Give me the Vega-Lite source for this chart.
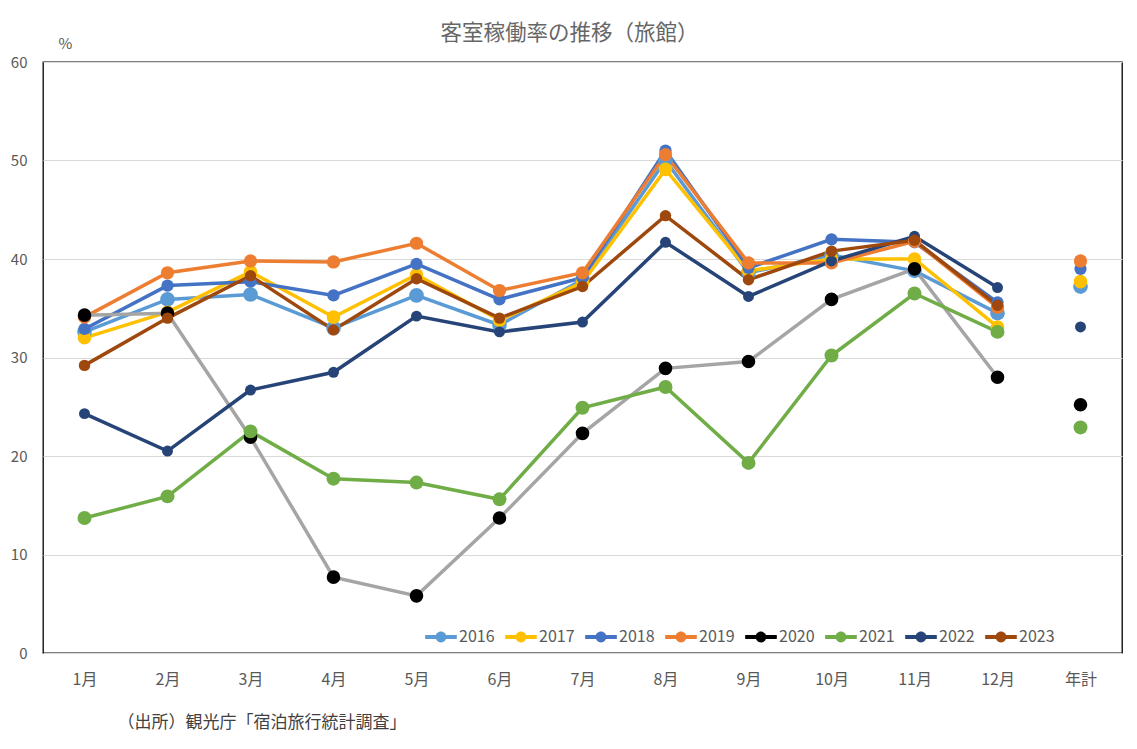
{
  "$schema": "https://vega.github.io/schema/vega-lite/v6.json",
  "width": 1079,
  "height": 591,
  "autosize": {"type": "none"},
  "padding": {"left": 43, "top": 62, "right": 15, "bottom": 96},
  "title": {
    "text": "客室稼働率の推移（旅館）",
    "fontSize": 21.5,
    "fontWeight": "normal",
    "color": "#666666",
    "anchor": "middle",
    "dx": -13,
    "offset": -8
  },
  "config": {
    "font": "Noto Sans CJK JP",
    "view": {"stroke": "#000000", "strokeWidth": 1.3},
    "background": "#ffffff"
  },
  "data": {
    "values": [
      {"m": "1月", "year": "2016", "v": 32.6}, {"m": "2月", "year": "2016", "v": 35.9}, {"m": "3月", "year": "2016", "v": 36.4}, {"m": "4月", "year": "2016", "v": 33.0}, {"m": "5月", "year": "2016", "v": 36.3}, {"m": "6月", "year": "2016", "v": 33.3}, {"m": "7月", "year": "2016", "v": 37.9}, {"m": "8月", "year": "2016", "v": 50.0}, {"m": "9月", "year": "2016", "v": 38.6}, {"m": "10月", "year": "2016", "v": 40.4}, {"m": "11月", "year": "2016", "v": 38.8}, {"m": "12月", "year": "2016", "v": 34.5}, {"m": "年計", "year": "2016", "v": 37.2},
      {"m": "1月", "year": "2017", "v": 32.0}, {"m": "2月", "year": "2017", "v": 34.6}, {"m": "3月", "year": "2017", "v": 38.7}, {"m": "4月", "year": "2017", "v": 34.1}, {"m": "5月", "year": "2017", "v": 38.4}, {"m": "6月", "year": "2017", "v": 33.8}, {"m": "7月", "year": "2017", "v": 37.6}, {"m": "8月", "year": "2017", "v": 49.1}, {"m": "9月", "year": "2017", "v": 38.8}, {"m": "10月", "year": "2017", "v": 40.0}, {"m": "11月", "year": "2017", "v": 40.0}, {"m": "12月", "year": "2017", "v": 33.1}, {"m": "年計", "year": "2017", "v": 37.7},
      {"m": "1月", "year": "2018", "v": 32.9}, {"m": "2月", "year": "2018", "v": 37.3}, {"m": "3月", "year": "2018", "v": 37.7}, {"m": "4月", "year": "2018", "v": 36.3}, {"m": "5月", "year": "2018", "v": 39.5}, {"m": "6月", "year": "2018", "v": 35.9}, {"m": "7月", "year": "2018", "v": 38.1}, {"m": "8月", "year": "2018", "v": 51.0}, {"m": "9月", "year": "2018", "v": 39.1}, {"m": "10月", "year": "2018", "v": 42.0}, {"m": "11月", "year": "2018", "v": 41.7}, {"m": "12月", "year": "2018", "v": 35.6}, {"m": "年計", "year": "2018", "v": 39.0},
      {"m": "1月", "year": "2019", "v": 34.1}, {"m": "2月", "year": "2019", "v": 38.6}, {"m": "3月", "year": "2019", "v": 39.8}, {"m": "4月", "year": "2019", "v": 39.7}, {"m": "5月", "year": "2019", "v": 41.6}, {"m": "6月", "year": "2019", "v": 36.8}, {"m": "7月", "year": "2019", "v": 38.6}, {"m": "8月", "year": "2019", "v": 50.6}, {"m": "9月", "year": "2019", "v": 39.6}, {"m": "10月", "year": "2019", "v": 39.6}, {"m": "11月", "year": "2019", "v": 41.8}, {"m": "12月", "year": "2019", "v": 35.1}, {"m": "年計", "year": "2019", "v": 39.8},
      {"m": "1月", "year": "2020", "v": 34.3}, {"m": "2月", "year": "2020", "v": 34.5}, {"m": "3月", "year": "2020", "v": 21.9}, {"m": "4月", "year": "2020", "v": 7.7}, {"m": "5月", "year": "2020", "v": 5.8}, {"m": "6月", "year": "2020", "v": 13.7}, {"m": "7月", "year": "2020", "v": 22.3}, {"m": "8月", "year": "2020", "v": 28.9}, {"m": "9月", "year": "2020", "v": 29.6}, {"m": "10月", "year": "2020", "v": 35.9}, {"m": "11月", "year": "2020", "v": 39.0}, {"m": "12月", "year": "2020", "v": 28.0}, {"m": "年計", "year": "2020", "v": 25.2},
      {"m": "1月", "year": "2021", "v": 13.7}, {"m": "2月", "year": "2021", "v": 15.9}, {"m": "3月", "year": "2021", "v": 22.5}, {"m": "4月", "year": "2021", "v": 17.7}, {"m": "5月", "year": "2021", "v": 17.3}, {"m": "6月", "year": "2021", "v": 15.6}, {"m": "7月", "year": "2021", "v": 24.9}, {"m": "8月", "year": "2021", "v": 27.0}, {"m": "9月", "year": "2021", "v": 19.3}, {"m": "10月", "year": "2021", "v": 30.2}, {"m": "11月", "year": "2021", "v": 36.5}, {"m": "12月", "year": "2021", "v": 32.6}, {"m": "年計", "year": "2021", "v": 22.9},
      {"m": "1月", "year": "2022", "v": 24.3}, {"m": "2月", "year": "2022", "v": 20.5}, {"m": "3月", "year": "2022", "v": 26.7}, {"m": "4月", "year": "2022", "v": 28.5}, {"m": "5月", "year": "2022", "v": 34.2}, {"m": "6月", "year": "2022", "v": 32.6}, {"m": "7月", "year": "2022", "v": 33.6}, {"m": "8月", "year": "2022", "v": 41.7}, {"m": "9月", "year": "2022", "v": 36.2}, {"m": "10月", "year": "2022", "v": 39.8}, {"m": "11月", "year": "2022", "v": 42.3}, {"m": "12月", "year": "2022", "v": 37.1}, {"m": "年計", "year": "2022", "v": 33.1},
      {"m": "1月", "year": "2023", "v": 29.2}, {"m": "2月", "year": "2023", "v": 34.0}, {"m": "3月", "year": "2023", "v": 38.3}, {"m": "4月", "year": "2023", "v": 32.8}, {"m": "5月", "year": "2023", "v": 38.0}, {"m": "6月", "year": "2023", "v": 34.0}, {"m": "7月", "year": "2023", "v": 37.2}, {"m": "8月", "year": "2023", "v": 44.4}, {"m": "9月", "year": "2023", "v": 37.9}, {"m": "10月", "year": "2023", "v": 40.8}, {"m": "11月", "year": "2023", "v": 41.9}, {"m": "12月", "year": "2023", "v": 35.3}
    ]
  },
  "encoding": {
    "x": {
      "field": "m",
      "type": "ordinal",
      "scale": {"type": "point", "padding": 0.5, "domain": ["1月", "2月", "3月", "4月", "5月", "6月", "7月", "8月", "9月", "10月", "11月", "12月", "年計"]},
      "axis": {
        "title": "（出所）観光庁「宿泊旅行統計調査」",
        "titleX": 74,
        "titleY": 69,
        "titleAlign": "left",
        "titleBaseline": "middle",
        "titleFontSize": 17,
        "titleFontWeight": "normal",
        "titleColor": "#404040",
        "labelAngle": 0,
        "labelFontSize": 16,
        "labelColor": "#595959",
        "labelPadding": 18,
        "ticks": false,
        "domain": false,
        "grid": false
      }
    },
    "y": {
      "field": "v",
      "type": "quantitative",
      "scale": {"domain": [0, 60], "nice": false},
      "axis": {
        "values": [0, 10, 20, 30, 40, 50, 60],
        "title": "%",
        "titleAngle": 0,
        "titleX": 22,
        "titleY": -19,
        "titleAlign": "center",
        "titleBaseline": "middle",
        "titleFontSize": 15,
        "titleFontWeight": "normal",
        "titleColor": "#595959",
        "labelFontSize": 15,
        "labelColor": "#595959",
        "labelPadding": 16,
        "ticks": false,
        "domain": false,
        "grid": true,
        "gridColor": "#D9D9D9",
        "gridWidth": 1
      }
    }
  },
  "layer": [
    {
      "transform": [{"filter": "datum.m != '年計'"}],
      "mark": {"type": "line", "strokeWidth": 3.5},
      "encoding": {
        "stroke": {
          "field": "year",
          "type": "nominal",
          "scale": {
            "domain": ["2023", "2022", "2021", "2020", "2019", "2018", "2017", "2016"],
            "range": ["#9E480E", "#264478", "#70AD47", "#A5A5A5", "#ED7D31", "#4472C4", "#FFC000", "#5B9BD5"]
          },
          "legend": null
        }
      }
    },
    {
      "mark": {"type": "point", "filled": true, "opacity": 1},
      "encoding": {
        "color": {
          "field": "year",
          "type": "nominal",
          "scale": {
            "domain": ["2016", "2017", "2018", "2019", "2020", "2021", "2022", "2023"],
            "range": ["#5B9BD5", "#FFC000", "#4472C4", "#ED7D31", "#000000", "#70AD47", "#264478", "#9E480E"]
          },
          "legend": {
            "title": null,
            "orient": "none",
            "legendX": 382,
            "legendY": 559,
            "direction": "horizontal",
            "columns": 8,
            "symbolType": "M-1,-0.13L1,-0.13L1,0.13L-1,0.13Z M-0.34,0A0.34,0.34 0 1,1 0.34,0A0.34,0.34 0 1,1 -0.34,0Z",
            "symbolSize": 1000,
            "symbolOpacity": 1,
            "symbolStrokeWidth": 0,
            "labelFontSize": 16,
            "labelColor": "#595959",
            "labelOffset": 2,
            "columnPadding": 10
          }
        },
        "size": {
          "field": "year",
          "type": "nominal",
          "scale": {
            "type": "ordinal",
            "domain": ["2022", "2023", "2018", "2019", "2017", "2020", "2021", "2016"],
            "range": [120, 130, 150, 175, 185, 185, 195, 215]
          },
          "legend": null
        }
      }
    }
  ]
}
